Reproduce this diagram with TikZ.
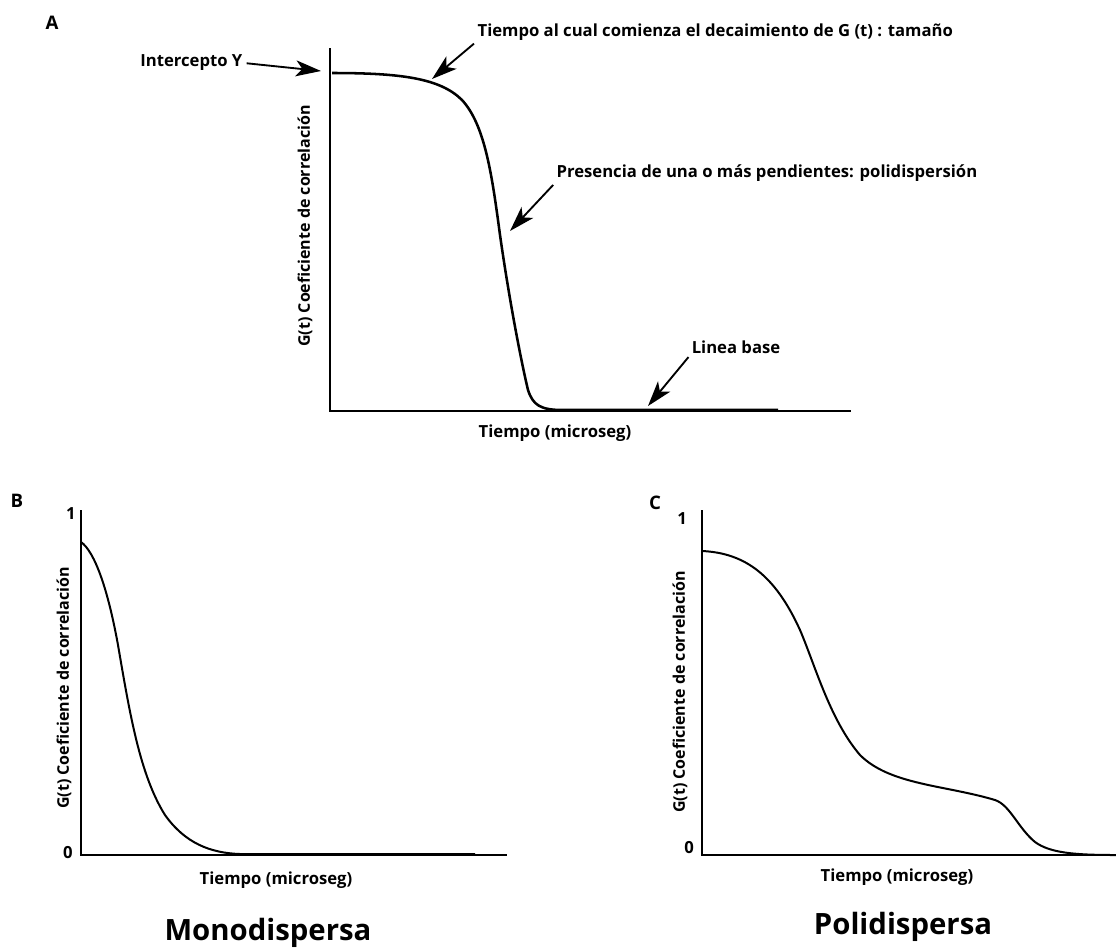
\documentclass[tikz,border=0pt]{standalone}
\usepackage{fontspec}
\setmainfont{Open Sans}
\usetikzlibrary{arrows.meta,positioning}

\begin{document}
\begin{tikzpicture}
	[x=0.75pt,y=-0.75pt,>={Stealth[length=19pt,width=12pt,inset=5pt]},
		lbl/.style={font=\bfseries\fontsize{12.5}{15}\selectfont,inner sep=1pt},
		ylbl/.style={font=\bfseries\fontsize{12}{14}\selectfont,inner sep=1pt,rotate=90},
		panel/.style={font=\bfseries\fontsize{14}{16}\selectfont,inner sep=0pt},
		big/.style={font=\bfseries\fontsize{22}{26}\selectfont,inner sep=0pt},
		axisA/.style={line width=2.2pt},
		axisBC/.style={line width=1.5pt},
		curveA/.style={line width=1.9pt,line join=round},
		curveBC/.style={line width=1.5pt,line join=round},
		pointer/.style={->,line width=1.4pt,shorten <=2pt}]

	\useasboundingbox (0,0) rectangle (1116,947);

	% panel A
	\node[panel] (labA) at (52,23) {A};
	\coordinate (A0) at (330,411);
	\draw[axisA] (330,48) -- (A0) -- (851,411);
	\draw[curveA] (332,73) .. controls (400,73) and (440,78) .. (462,100)
		.. controls (485,125) and (492,175) .. (500,235)
		.. controls (510,305) and (522,365) .. (528,390)
		.. controls (533,405) and (540,410) .. (563,410) -- (778,410);
	\node[ylbl] (ylabA) at (305,226) {G(t) Coeficiente de correlación};
	\node[lbl] (xlabA) at (555,433) {Tiempo (microseg)};

	\node[lbl,anchor=east] (icpt) at (244,63) {Intercepto Y};
	\coordinate (yint) at (321,71);
	\draw[pointer] (icpt.east) -- (yint);

	\node[lbl,anchor=west] (decay) at (476,32) {Tiempo al cual comienza el decaimiento de G (t) : tamaño};
	\coordinate (decaytip) at (432,79);
	\draw[pointer] (decay.south west) -- (decaytip);

	\node[lbl,anchor=west] (slope) at (555,173) {Presencia de una o más pendientes: polidispersión};
	\coordinate (slopetip) at (510,231);
	\draw[pointer] (slope.south west) -- (slopetip);

	\node[lbl] (base) at (736,347) {Linea base};
	\coordinate (basetip) at (648,406);
	\draw[pointer] (base.south west) -- (basetip);

	% panel B
	\node[panel] (labB) at (17,501) {B};
	\draw[axisBC] (81,510) -- (81,855) -- (507,855);
	\draw[curveBC] (81,542) .. controls (95,552) and (108,590) .. (118,645)
		.. controls (130,715) and (140,775) .. (165,815)
		.. controls (185,843) and (210,853) .. (240,854) -- (475,854);
	\node[lbl] (oneB) at (71,514) {1};
	\node[lbl] (zeroB) at (68,853) {0};
	\node[ylbl] (ylabB) at (64,688) {G(t) Coeficiente de correlación};
	\node[lbl] (xlabB) at (276,880) {Tiempo (microseg)};
	\node[big] (mono) at (268,933) {Monodispersa};

	% panel C
	\node[panel] (labC) at (655,503) {C};
	\draw[axisBC] (702,510) -- (702,855) -- (1116,855);
	\draw[curveBC] (702,551) .. controls (745,553) and (775,575) .. (800,630)
		.. controls (815,665) and (830,720) .. (860,755)
		.. controls (890,785) and (945,785) .. (995,800)
		.. controls (1010,805) and (1018,828) .. (1035,842)
		.. controls (1050,853) and (1075,855) .. (1116,855);
	\node[lbl] (oneC) at (682,519) {1};
	\node[lbl] (zeroC) at (689,848) {0};
	\node[ylbl] (ylabC) at (680,692) {G(t) Coeficiente de correlación};
	\node[lbl] (xlabC) at (897,877) {Tiempo (microseg)};
	\node[big] (poli) at (903,927) {Polidispersa};

\end{tikzpicture}
\end{document}
